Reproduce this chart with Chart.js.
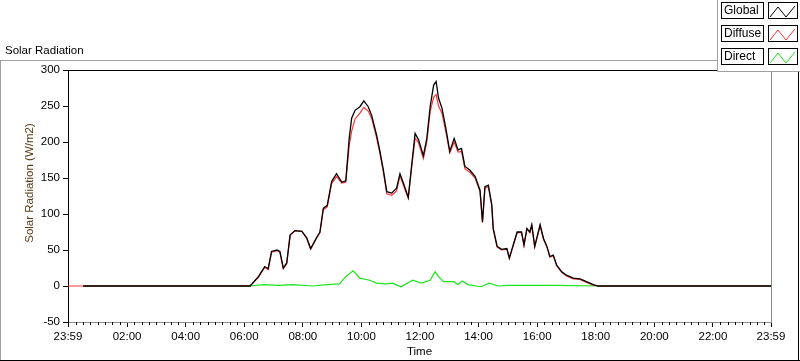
<!DOCTYPE html>
<html><head><meta charset="utf-8">
<script src="https://cdn.jsdelivr.net/npm/chart.js@4.4.0/dist/chart.umd.min.js"></script>
<style>html,body{margin:0;padding:0;background:#fff;overflow:hidden}canvas{display:block}</style>
</head><body>
<canvas id="c" width="800" height="361"></canvas>
<script>
// ---- texts ----
const chartTitle = 'Solar Radiation';
const yAxisTitle = 'Solar Radiation (W/m2)';
const xAxisTitle = 'Time';
const seriesNames = ['Global', 'Diffuse', 'Direct'];

// ---- data (time in minutes after midnight, value in W/m2) ----
const globalTimes  = [30,372,389,402,409,416,427,433,440,447,454,464,478,488,496,508,515,522,530,539,549,560,568,575,580,587,597,605,614,621,631,638,645,652,662,672,679,686,696,703,710,717,727,734,741,748,753,758,765,773,781,790,798,805,812,822,833,843,848,853,860,867,870,878,887,898,903,911,919,928,933,939,945,949,955,966,973,980,986,993,1000,1010,1020,1034,1048,1061,1075,1085,1439];
const globalValues = [0,0,13,27,24,48,50,48,25,32,71,77,76,67,52,67,75,108,112,145,156,144,146,205,233,244,249,257,249,237,210,187,161,131,129,136,156,143,123,168,212,203,181,205,250,279,284,261,247,219,187,205,189,191,166,161,152,133,89,138,140,113,80,55,51,52,39,57,75,75,57,80,75,85,55,85,66,55,41,43,29,20,15,11,10,6,2,0,0];

const diffuseTimes  = [-1,372,389,402,409,416,427,433,440,447,454,464,478,488,496,508,515,522,530,539,549,560,568,575,580,587,597,605,614,621,631,638,645,652,662,672,679,686,696,703,710,717,727,734,741,748,753,758,765,773,781,790,798,805,812,822,833,843,848,853,860,867,870,878,887,898,903,911,919,928,933,939,945,949,955,966,973,980,986,993,1000,1010,1020,1034,1048,1061,1075,1085,1439];
const diffuseValues = [0,0,12,26,23,47,49,47,24,31,70,77,76,66,51,66,74,106,110,142,152,143,144,195,215,232,240,248,243,233,206,184,158,128,126,132,153,140,122,165,205,199,177,200,243,262,266,250,240,214,185,200,186,187,163,158,150,131,88,136,138,112,79,54,50,51,38,56,74,74,56,79,74,84,54,84,65,54,40,42,28,19,14,10,9,5,1,0,0];

const directTimes  = [30,372,400,430,460,500,530,555,568,583,597,617,631,650,664,681,705,722,741,751,758,768,789,798,807,818,845,862,880,900,950,1000,1085,1439];
const directValues = [0,0,2,1,2,0,2,3,13,21,11,8,4,3,4,-1,8,4,8,20,13,6,6,2,7,2,-1,4,0,1,1,1,0,0];

// ---- axes ----
const xTickValues = [-1,120,240,360,480,600,720,840,960,1080,1200,1320,1439];
const xTickLabels = ['23:59','02:00','04:00','06:00','08:00','10:00','12:00','14:00','16:00','18:00','20:00','22:00','23:59'];
const yMin = -50, yMax = 300, yStep = 50;

const seriesColors = ['#000000', '#ff3535', '#19e619'];
const FONT = "'Liberation Sans', Arial, sans-serif";

function pts(t, v) { return t.map((x, i) => ({ x: x, y: v[i] })); }

const decor = {
  id: 'decor',
  beforeDraw(chart) {
    const c = chart.ctx; c.save(); c.fillStyle = '#fff'; c.fillRect(0, 0, chart.width, chart.height); c.restore();
  },
  afterDraw(chart) {
    const ctx = chart.ctx, a = chart.chartArea, xs = chart.scales.x;
    ctx.save();
    ctx.lineWidth = 1;
    // minor x ticks
    ctx.strokeStyle = '#000';
    ctx.beginPath();
    for (let m = 15; m < 1439; m += 15) {
      if (m % 120 === 0) continue;
      const px = Math.round(xs.getPixelForValue(m)) + 0.5;
      ctx.moveTo(px, a.bottom); ctx.lineTo(px, a.bottom + 3);
    }
    ctx.stroke();
    // plot frame: top black, right gray
    ctx.strokeStyle = '#000';
    ctx.beginPath(); ctx.moveTo(a.left, a.top + 0.5); ctx.lineTo(a.right, a.top + 0.5); ctx.stroke();
    ctx.strokeStyle = '#8c8c8c';
    ctx.beginPath(); ctx.moveTo(a.right + 0.5, a.top); ctx.lineTo(a.right + 0.5, a.bottom + 1); ctx.stroke();
    // outer panel frame
    ctx.strokeStyle = '#a0a0a0';
    ctx.beginPath(); ctx.moveTo(0, 60.5); ctx.lineTo(718, 60.5); ctx.moveTo(0.5, 60); ctx.lineTo(0.5, 361); ctx.stroke();
    ctx.strokeStyle = '#000';
    ctx.beginPath(); ctx.moveTo(0, 360.5); ctx.lineTo(800, 360.5); ctx.moveTo(798.5, 72); ctx.lineTo(798.5, 361); ctx.stroke();
    // chart title
    ctx.fillStyle = '#000';
    ctx.font = '11.5px ' + FONT;
    ctx.textBaseline = 'middle'; ctx.textAlign = 'left';
    ctx.fillText(chartTitle, 5, 51);
    // y axis title
    ctx.save();
    ctx.translate(30, 183); ctx.rotate(-Math.PI / 2);
    ctx.fillStyle = '#5a3a12'; ctx.textAlign = 'center';
    ctx.fillText(yAxisTitle, 0, 0);
    ctx.restore();
    // legend panel
    ctx.fillStyle = '#fff'; ctx.fillRect(717, 0, 83, 72);
    ctx.strokeStyle = '#a0a0a0';
    ctx.beginPath(); ctx.moveTo(717.5, 0); ctx.lineTo(717.5, 72); ctx.moveTo(717, 71.5); ctx.lineTo(800, 71.5); ctx.stroke();
    ctx.font = '12px ' + FONT;
    chart.data.datasets.forEach((ds, i) => {
      const y0 = 2 + i * 23;
      ctx.strokeStyle = '#000';
      ctx.strokeRect(721.5, y0 + 0.5, 42, 16);
      ctx.strokeRect(768.5, y0 + 0.5, 29, 16);
      ctx.fillStyle = '#000'; ctx.textAlign = 'left'; ctx.textBaseline = 'middle';
      ctx.fillText(ds.label, 724, y0 + 9);
      ctx.strokeStyle = ds.borderColor;
      ctx.beginPath();
      ctx.moveTo(770, y0 + 15); ctx.lineTo(778, y0 + 5); ctx.lineTo(786, y0 + 15); ctx.lineTo(795, y0 + 4);
      ctx.stroke();
    });
    ctx.restore();
  }
};

new Chart(document.getElementById('c'), {
  type: 'line',
  data: {
    datasets: [
      { label: seriesNames[0], data: pts(globalTimes, globalValues), borderColor: seriesColors[0], borderWidth: 1.3 },
      { label: seriesNames[1], data: pts(diffuseTimes, diffuseValues), borderColor: seriesColors[1], borderWidth: 1.2 },
      { label: seriesNames[2], data: pts(directTimes, directValues), borderColor: seriesColors[2], borderWidth: 1.2 }
    ]
  },
  options: {
    responsive: false,
    animation: false,
    datasets: { line: { pointRadius: 0, tension: 0, fill: false } },
    layout: { padding: { top: 70, right: 29, left: 0, bottom: 0 } },
    plugins: { legend: { display: false }, title: { display: false }, tooltip: { enabled: false } },
    scales: {
      x: {
        type: 'linear', min: -1, max: 1439,
        afterBuildTicks: s => { s.ticks = xTickValues.map(v => ({ value: v })); },
        afterFit: s => { s.height = 39; },
        ticks: {
          autoSkip: false, maxRotation: 0, padding: 3, color: '#000',
          font: { family: FONT, size: 11.5 },
          callback: (v, i) => xTickLabels[i]
        },
        grid: { drawOnChartArea: false, drawTicks: true, tickLength: 5, color: '#000' },
        border: { display: true, color: '#8c8c8c' },
        title: { display: true, text: xAxisTitle, color: '#000', font: { family: FONT, size: 11.5 }, padding: { top: 0, bottom: 2 } }
      },
      y: {
        type: 'linear', min: yMin, max: yMax,
        ticks: { stepSize: yStep, padding: 3, color: '#000', font: { family: FONT, size: 11.5 } },
        afterFit: s => { s.width = 68; },
        grid: { drawOnChartArea: false, drawTicks: true, tickLength: 5, color: '#000' },
        border: { display: true, color: '#000' }
      }
    }
  },
  plugins: [decor]
});
</script>
</body></html>
